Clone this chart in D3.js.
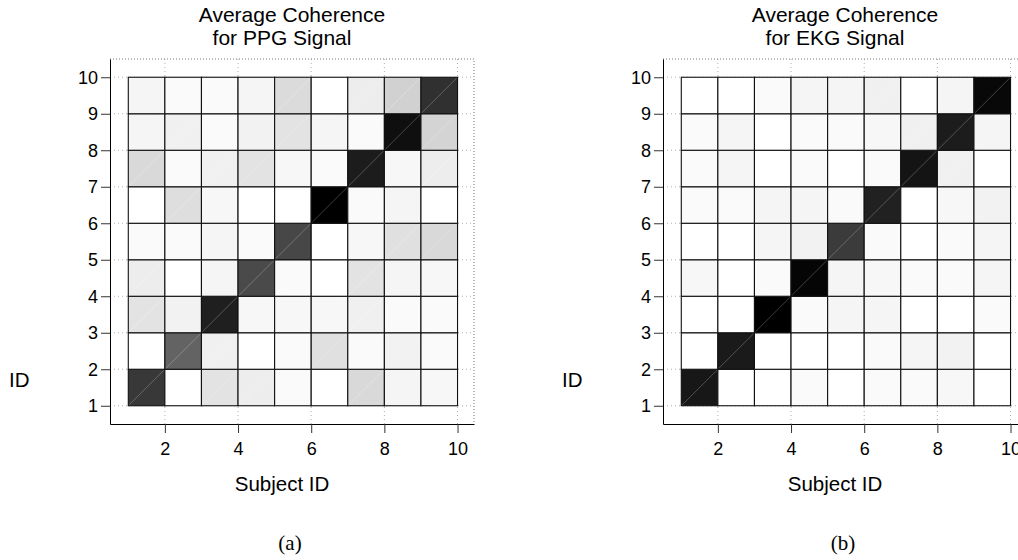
<!DOCTYPE html>
<html>
<head>
<meta charset="utf-8">
<script src="https://cdn.jsdelivr.net/npm/d3@7"></script>
<style>
  body { margin: 0; background: #fff; }
  svg text { font-family: "Liberation Sans", Arial, sans-serif; fill: #000; }
  .sub-label { font-family: "Liberation Serif", "Times New Roman", serif !important; font-size: 21px; }
</style>
</head>
<body>
<div class="chart"></div>
<script>
// subject ids 1..10 (pcolor-style: 9 x 9 cells drawn between ids)
const subjects = [1, 2, 3, 4, 5, 6, 7, 8, 9, 10]
const xTicks = [2, 4, 6, 8, 10]
const yTicks = [1, 2, 3, 4, 5, 6, 7, 8, 9, 10]

// average coherence, rows from id 1 (bottom) up to id 9
const ppgCoherence = [
  [0.78, 0.00, 0.11, 0.07, 0.02, 0.00, 0.15, 0.04, 0.03],
  [0.00, 0.61, 0.06, 0.00, 0.02, 0.12, 0.02, 0.05, 0.02],
  [0.11, 0.05, 0.88, 0.03, 0.03, 0.03, 0.06, 0.02, 0.02],
  [0.07, 0.00, 0.04, 0.71, 0.02, 0.00, 0.11, 0.04, 0.03],
  [0.02, 0.02, 0.04, 0.02, 0.72, 0.00, 0.03, 0.12, 0.15],
  [0.00, 0.13, 0.03, 0.00, 0.00, 1.00, 0.02, 0.04, 0.00],
  [0.15, 0.02, 0.06, 0.11, 0.03, 0.02, 0.89, 0.03, 0.07],
  [0.04, 0.06, 0.02, 0.05, 0.11, 0.04, 0.02, 0.94, 0.17],
  [0.04, 0.02, 0.02, 0.04, 0.14, 0.00, 0.07, 0.18, 0.81]
]

const ekgCoherence = [
  [0.91, 0.00, 0.00, 0.02, 0.00, 0.02, 0.02, 0.03, 0.00],
  [0.00, 0.90, 0.00, 0.00, 0.00, 0.02, 0.04, 0.05, 0.00],
  [0.00, 0.00, 1.00, 0.02, 0.04, 0.04, 0.00, 0.00, 0.02],
  [0.03, 0.00, 0.02, 0.98, 0.04, 0.03, 0.02, 0.02, 0.04],
  [0.00, 0.00, 0.04, 0.05, 0.77, 0.02, 0.00, 0.02, 0.04],
  [0.02, 0.02, 0.04, 0.04, 0.02, 0.87, 0.00, 0.03, 0.05],
  [0.02, 0.04, 0.00, 0.02, 0.00, 0.02, 0.92, 0.06, 0.00],
  [0.02, 0.04, 0.00, 0.02, 0.02, 0.03, 0.06, 0.89, 0.04],
  [0.00, 0.00, 0.02, 0.04, 0.04, 0.06, 0.00, 0.04, 0.97]
]

const w = 1018
const h = 560

const svg = d3.select('.chart')
  .append('svg')
    .attr('width', w)
    .attr('height', h)

// gray colormap, high coherence = dark
const color = d3.scaleLinear()
  .domain([0, 1])
  .range(['#ffffff', '#000000'])

function drawPanel (left, matrix, title, subLabel) {
  const g = svg.append('g')

  const x = d3.scaleLinear()
    .domain([0.5, 10.45])
    .range([left, left + 364])
  const y = d3.scaleLinear()
    .domain([0.5, 10.5])
    .range([424, 59])

  //grid lines (dotted), behind the cells
  g.selectAll('.vgrid')
    .data(xTicks)
    .enter().append('line')
      .attr('x1', d => x(d)).attr('x2', d => x(d))
      .attr('y1', y(10.5)).attr('y2', y(0.5))
      .attr('stroke', '#b0b0b0')
      .attr('stroke-dasharray', '1,3')
  g.selectAll('.hgrid')
    .data(yTicks)
    .enter().append('line')
      .attr('x1', x(0.5)).attr('x2', x(10.45))
      .attr('y1', d => y(d)).attr('y2', d => y(d))
      .attr('stroke', '#b0b0b0')
      .attr('stroke-dasharray', '1,3')

  //top and right box edges, dotted
  g.append('path')
    .attr('d', `M${x(0.5)},${y(10.5)}H${x(10.45)}V${y(0.5)}`)
    .attr('fill', 'none')
    .attr('stroke', '#777')
    .attr('stroke-dasharray', '1,2')

  //cells
  const cells = []
  matrix.forEach((row, i) => {
    row.forEach((v, j) => {
      cells.push({ col: subjects[j], row: subjects[i], value: v })
    })
  })

  g.selectAll('.cell')
    .data(cells)
    .enter().append('rect')
      .attr('x', d => x(d.col))
      .attr('y', d => y(d.row + 1))
      .attr('width', d => x(d.col + 1) - x(d.col))
      .attr('height', d => y(d.row) - y(d.row + 1))
      .attr('fill', d => color(d.value))
      .attr('stroke', '#111')
      .attr('stroke-width', 1.1)

  //faint diagonal seams of the patch triangles
  g.selectAll('.seam')
    .data(cells)
    .enter().append('line')
      .attr('x1', d => x(d.col) + 1)
      .attr('y1', d => y(d.row) - 1)
      .attr('x2', d => x(d.col + 1) - 1)
      .attr('y2', d => y(d.row + 1) + 1)
      .attr('stroke', '#fff')
      .attr('stroke-opacity', 0.3)
      .attr('stroke-width', 0.8)

  //axes
  g.append('g')
    .attr('transform', `translate(${x(0.5)},0)`)
    .call(d3.axisLeft(y).tickValues(yTicks).tickSize(9).tickSizeOuter(0).tickPadding(3))
    .call(a => a.selectAll('.tick line').attr('stroke', '#333'))
    .call(a => a.selectAll('.tick text').style('font-size', '18px'))
    .call(a => a.select('.domain').attr('stroke', '#000'))

  g.append('g')
    .attr('transform', `translate(0,${y(0.5)})`)
    .call(d3.axisBottom(x).tickValues(xTicks).tickSize(9).tickSizeOuter(0).tickPadding(9))
    .call(a => a.selectAll('.tick line').attr('stroke', '#333'))
    .call(a => a.selectAll('.tick text').style('font-size', '18px'))
    .call(a => a.select('.domain').attr('stroke', '#000'))

  const cx = (x(0.5) + x(10.45)) / 2

  //title
  g.append('text')
    .attr('x', cx)
    .attr('y', 22)
    .attr('text-anchor', 'middle')
    .style('font-size', '21px')
    .text(title[0])
  g.append('text')
    .attr('x', cx - 10)
    .attr('y', 45)
    .attr('text-anchor', 'middle')
    .style('font-size', '21px')
    .text(title[1])

  //axis labels
  g.append('text')
    .attr('x', cx - 10)
    .attr('y', 491)
    .attr('text-anchor', 'middle')
    .style('font-size', '20.5px')
    .text('Subject ID')
  g.append('text')
    .attr('x', left - 101)
    .attr('y', 387)
    .style('font-size', '20.5px')
    .text('ID')

  //sub figure label
  g.append('text')
    .attr('class', 'sub-label')
    .attr('x', cx - 2)
    .attr('y', 550)
    .attr('text-anchor', 'middle')
    .text(subLabel)
}

drawPanel(110, ppgCoherence, ['Average Coherence', 'for PPG Signal'], '(a)')
drawPanel(663, ekgCoherence, ['Average Coherence', 'for EKG Signal'], '(b)')
</script>
</body>
</html>
